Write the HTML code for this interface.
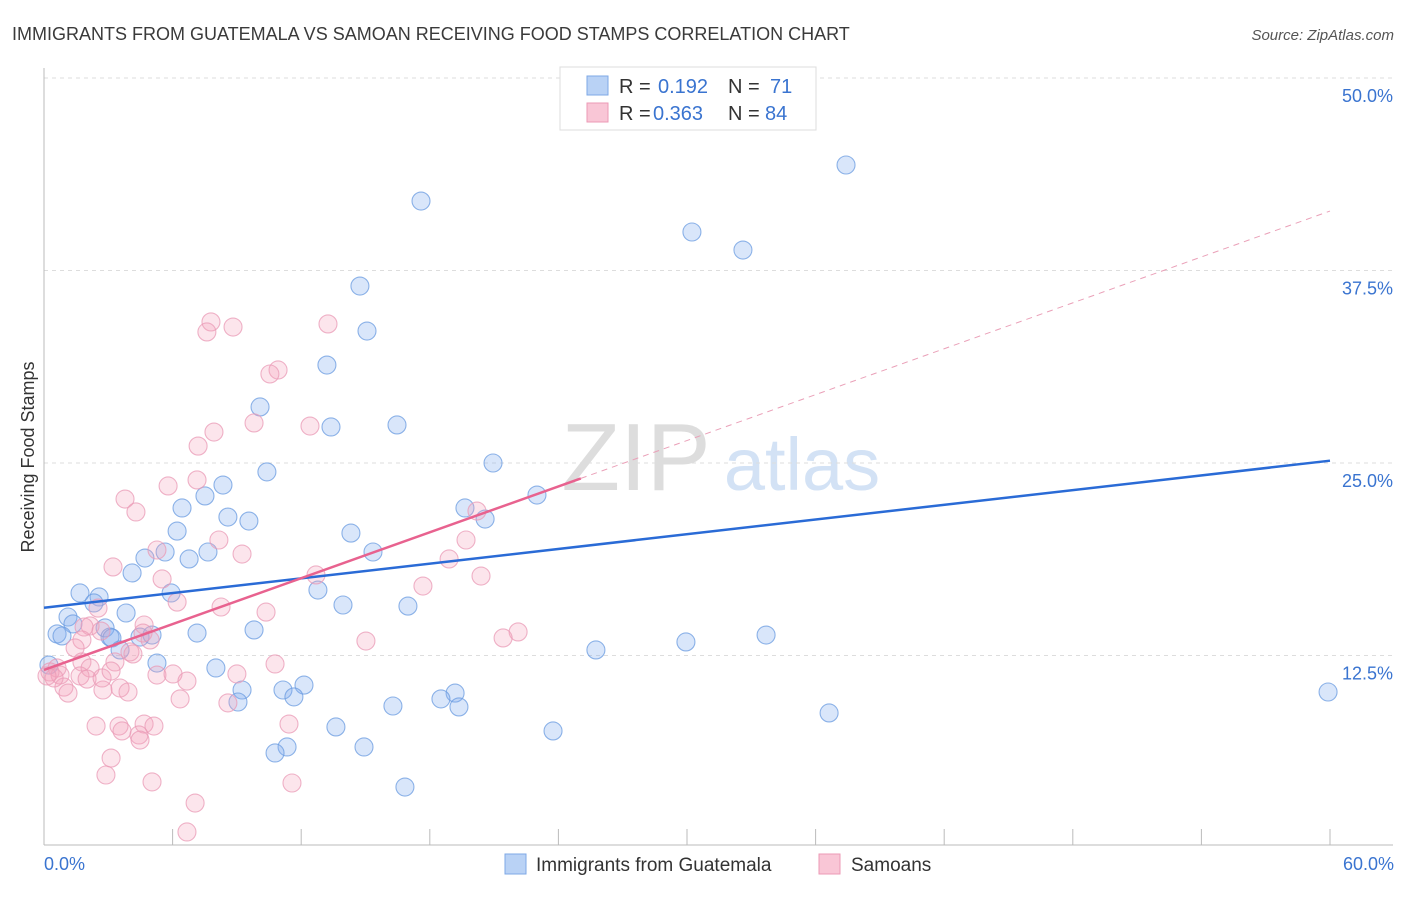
<!DOCTYPE html>
<html><head><meta charset="utf-8"><style>
body{margin:0;background:#fff;font-family:"Liberation Sans",sans-serif;}
svg text{font-family:"Liberation Sans",sans-serif;}
</style></head><body>
<svg id="chart" width="1406" height="892" xmlns="http://www.w3.org/2000/svg">
<text x="12" y="40" font-size="18" fill="#3a3a3a">IMMIGRANTS FROM GUATEMALA VS SAMOAN RECEIVING FOOD STAMPS CORRELATION CHART</text>
<text x="1394" y="40" font-size="15" fill="#555" text-anchor="end" font-style="italic">Source: ZipAtlas.com</text>
<text transform="translate(34,457) rotate(-90)" font-size="18" fill="#333" text-anchor="middle">Receiving Food Stamps</text>
<g>
<text x="636" y="490" font-size="96" fill="#ddd" font-family="Liberation Serif" text-anchor="middle">ZIP</text>
<text x="802" y="490" font-size="74" fill="#d3e2f5" text-anchor="middle">atlas</text>
</g>
<g id="grid"></g><g id="axes"></g><g id="pts"></g><g id="lines"></g>
<g>
<rect x="560" y="67" width="256" height="63" fill="#fff" stroke="#ddd"/>
<rect x="587" y="76" width="21" height="19" fill="#b9d2f5" stroke="#7ea8e6"/>
<rect x="587" y="103" width="21" height="19" fill="#f9c6d6" stroke="#ec9ab6"/>
<text x="619" y="93" font-size="20" fill="#333">R =</text>
<text x="658" y="93" font-size="20" fill="#3a74d0">0.192</text>
<text x="728" y="93" font-size="20" fill="#333">N =</text>
<text x="770" y="93" font-size="20" fill="#3a74d0">71</text>
<text x="619" y="120" font-size="20" fill="#333">R =</text>
<text x="653" y="120" font-size="20" fill="#3a74d0">0.363</text>
<text x="728" y="120" font-size="20" fill="#333">N =</text>
<text x="765" y="120" font-size="20" fill="#3a74d0">84</text>
</g>
<g>
<rect x="505" y="854" width="21" height="20" fill="#b9d2f5" stroke="#7ea8e6"/>
<text x="536" y="871" font-size="19" fill="#333">Immigrants from Guatemala</text>
<rect x="819" y="854" width="21" height="20" fill="#f9c6d6" stroke="#ec9ab6"/>
<text x="851" y="871" font-size="19" fill="#333">Samoans</text>
</g>
<text x="44" y="870" font-size="18" fill="#3a74d0">0.0%</text>
<text x="1394" y="870" font-size="18" fill="#3a74d0" text-anchor="end">60.0%</text>
</svg>
<script>
const yTicks=[12.5,25,37.5,50];
const yTickLabels=["12.5%","25.0%","37.5%","50.0%"];
const xTicks=[0,6,12,18,24,30,36,42,48,54,60];
const bluePx=[[846,165],[421,201],[692,232],[743,250],[360,286],[367,331],[327,365],[260,407],[331,427],[397,425],[493,463],[267,472],[223,485],[205,496],[465,508],[485,519],[537,495],[182,508],[228,517],[249,521],[177,531],[351,533],[165,552],[145,558],[208,552],[189,559],[373,552],[132,573],[80,593],[171,593],[99,597],[94,603],[318,590],[343,605],[408,606],[126,613],[68,617],[73,624],[105,628],[110,637],[140,637],[152,635],[197,633],[254,630],[57,634],[62,636],[112,638],[686,642],[766,635],[596,650],[120,650],[157,663],[216,668],[49,665],[242,690],[283,690],[304,685],[294,697],[238,702],[455,693],[441,699],[459,707],[393,706],[829,713],[1328,692],[336,727],[553,731],[364,747],[287,747],[275,753],[405,787]];
const pinkPx=[[211,322],[233,327],[207,332],[328,324],[278,370],[270,374],[254,423],[310,426],[214,432],[198,446],[197,480],[168,486],[125,499],[136,512],[477,511],[466,540],[219,540],[242,554],[157,550],[162,579],[113,567],[316,575],[449,559],[481,576],[423,586],[177,602],[221,607],[98,608],[266,612],[144,625],[90,626],[84,627],[101,631],[82,640],[143,633],[518,632],[503,638],[366,641],[150,640],[75,648],[130,652],[133,654],[82,662],[115,662],[90,668],[57,668],[50,672],[60,675],[275,664],[157,675],[173,674],[187,681],[80,676],[87,679],[64,687],[68,693],[120,688],[128,692],[103,690],[237,674],[102,678],[111,671],[228,703],[180,699],[96,726],[119,726],[144,724],[154,726],[289,724],[122,731],[139,735],[140,740],[111,758],[106,775],[152,782],[292,783],[195,803],[187,832],[54,678],[47,676]];
const blueX=bluePx.map(p=>+((p[0]-44)/1286*60).toFixed(2));
const blueY=bluePx.map(p=>+((848-p[1])/15.4).toFixed(2));
const pinkX=pinkPx.map(p=>+((p[0]-44)/1286*60).toFixed(2));
const pinkY=pinkPx.map(p=>+((848-p[1])/15.4).toFixed(2));
const blueTrend=[15.6,25.15];
const pinkTrend=[11.56,41.36];
const pinkSolidEnd=24.0;

const X=v=>44+v/60*1286, Y=v=>848-v*15.4;
const NS="http://www.w3.org/2000/svg";
function mk(t,a,p){const e=document.createElementNS(NS,t);for(const k in a)e.setAttribute(k,a[k]);document.querySelector(p).appendChild(e);return e;}
yTicks.forEach((t,i)=>{
 const g=mk('line',{x1:44,x2:1393,y1:Y(t),y2:Y(t),stroke:'#ddd','stroke-dasharray':'4,4'},'#grid');
 
 
 const l=mk('text',{x:1393,y:Y(t)+24,'font-size':18,fill:'#3a74d0','text-anchor':'end'},'#grid');
 l.textContent=yTickLabels[i];
 
 
});
const ax=mk('line',{x1:44,x2:1393,y1:845,y2:845,stroke:'#bbb'},'#axes');


const ay=mk('line',{x1:44,x2:44,y1:68,y2:845,stroke:'#bbb'},'#axes');


xTicks.forEach(t=>{
 const e=mk('line',{x1:X(t),x2:X(t),y1:829,y2:845,stroke:'#bbb'},'#axes');
 
 
});
function pts(xs,ys,fill,stroke,name){
 xs.forEach((x,i)=>{
  const c=mk('circle',{cx:X(x),cy:Y(ys[i]),r:9,fill:fill,stroke:stroke,'stroke-width':1.1,'stroke-opacity':0.75},'#pts');
  
  
 });
}
pts(blueX,blueY,'rgba(130,172,238,0.3)','#6a9be0','guatemala-point');
pts(pinkX,pinkY,'rgba(245,160,188,0.28)','#ea9ab6','samoan-point');
const bl=mk('line',{x1:X(0),y1:Y(blueTrend[0]),x2:X(60),y2:Y(blueTrend[1]),stroke:'#2a6bd6','stroke-width':2.5},'#lines');


const px=(pinkSolidEnd-pinkTrend[0])/(pinkTrend[1]-pinkTrend[0])*60;
const pl=mk('line',{x1:X(0),y1:Y(pinkTrend[0]),x2:X(px),y2:Y(pinkSolidEnd),stroke:'#e8628f','stroke-width':2.5},'#lines');


const pd=mk('line',{x1:X(px),y1:Y(pinkSolidEnd),x2:X(60),y2:Y(pinkTrend[1]),stroke:'#eaa0b8','stroke-width':1,'stroke-dasharray':'6,5'},'#lines');


</script>
</body></html>
